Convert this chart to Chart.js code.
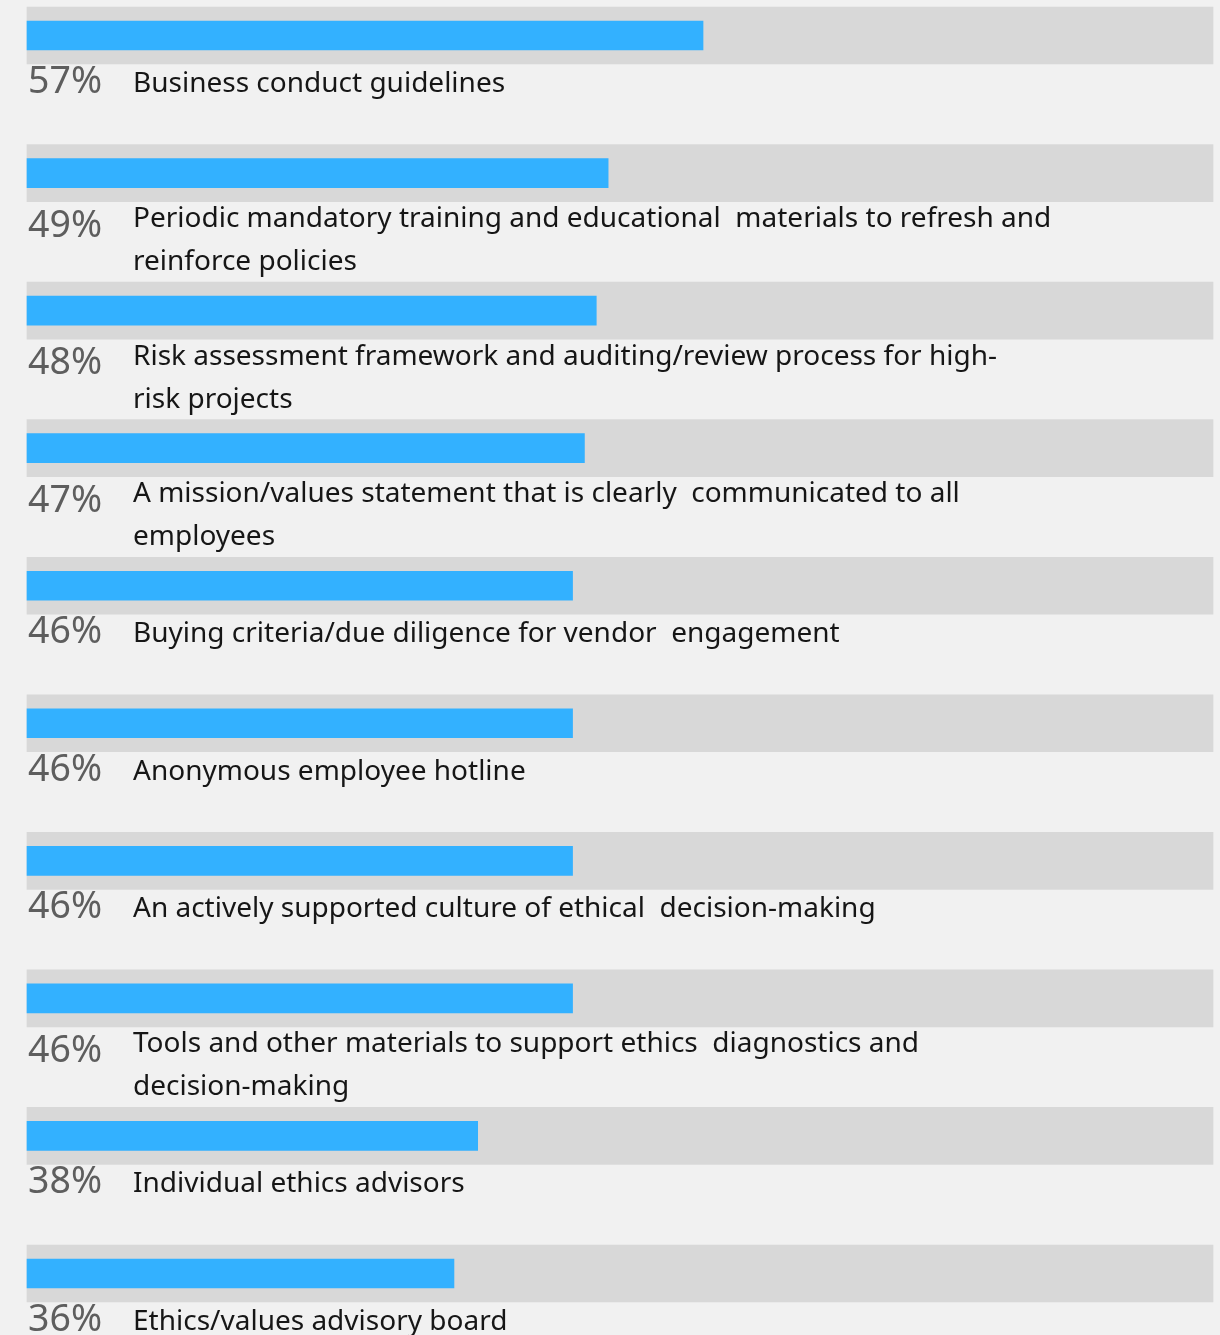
<!DOCTYPE html>
<html>
<head>
<meta charset="utf-8">
<script src="https://cdn.jsdelivr.net/npm/chart.js@4"></script>
<style>
html,body{margin:0;padding:0;background:#f1f1f1}
#wrap{width:1220px;height:1335px}
</style>
</head>
<body>
<div id="wrap"><canvas id="grafico" width="1220" height="1335"></canvas></div>
<script>

// labels, one entry per line of text
const categorias=[
["Business conduct guidelines"],
["Periodic mandatory training and educational  materials to refresh and","reinforce policies"],
["Risk assessment framework and auditing/review process for high-","risk projects"],
["A mission/values statement that is clearly  communicated to all","employees"],
["Buying criteria/due diligence for vendor  engagement"],
["Anonymous employee hotline"],
["An actively supported culture of ethical  decision-making"],
["Tools and other materials to support ethics  diagnostics and","decision-making"],
["Individual ethics advisors"],
["Ethics/values advisory board"]
]

const valores=[57,49,48,47,46,46,46,46,38,36]
const fundo=valores.map(()=>100)

const fonte="'Noto Sans', 'DejaVu Sans', sans-serif"

// draws the percent and the text under each band
const rotulos={
id:"rotulos",
afterDatasetsDraw(chart){
const ctx=chart.ctx
const y=chart.scales.y
const area=chart.chartArea
ctx.save()
ctx.textBaseline="alphabetic"
ctx.textAlign="left"
categorias.forEach((linhas,i)=>{
let base=y.getPixelForValue(i)+28.5
let duas=linhas.length>1
ctx.font="37.5px "+fonte
ctx.fillStyle="#5e5e5e"
ctx.fillText(valores[i]+"%",area.left+1,base+(duas?35:29))
ctx.font="28px "+fonte
ctx.fillStyle="#161616"
linhas.forEach((t,k)=>{
ctx.fillText(t,133,base+(duas?25.5:28)+k*43)
})
})
ctx.restore()
}
}

new Chart(document.getElementById("grafico"),{
type:"bar",
data:{
labels:categorias,
datasets:[
{
data:fundo,
backgroundColor:"#d8d8d8",
barThickness:57,
order:1,
clip:false
},
{
data:valores,
backgroundColor:"#33b1ff",
barThickness:29,
order:0,
clip:false
}
]
},
options:{
indexAxis:"y",
responsive:false,
animation:false,
datasets:{bar:{grouped:false}},
layout:{padding:{top:35.5,bottom:61.5,left:27,right:7}},
plugins:{legend:{display:false},tooltip:{enabled:false}},
scales:{
x:{min:0,max:100,display:false},
y:{display:false,offset:false,grid:{display:false}}
}
},
plugins:[rotulos]
})

</script>
</body>
</html>
